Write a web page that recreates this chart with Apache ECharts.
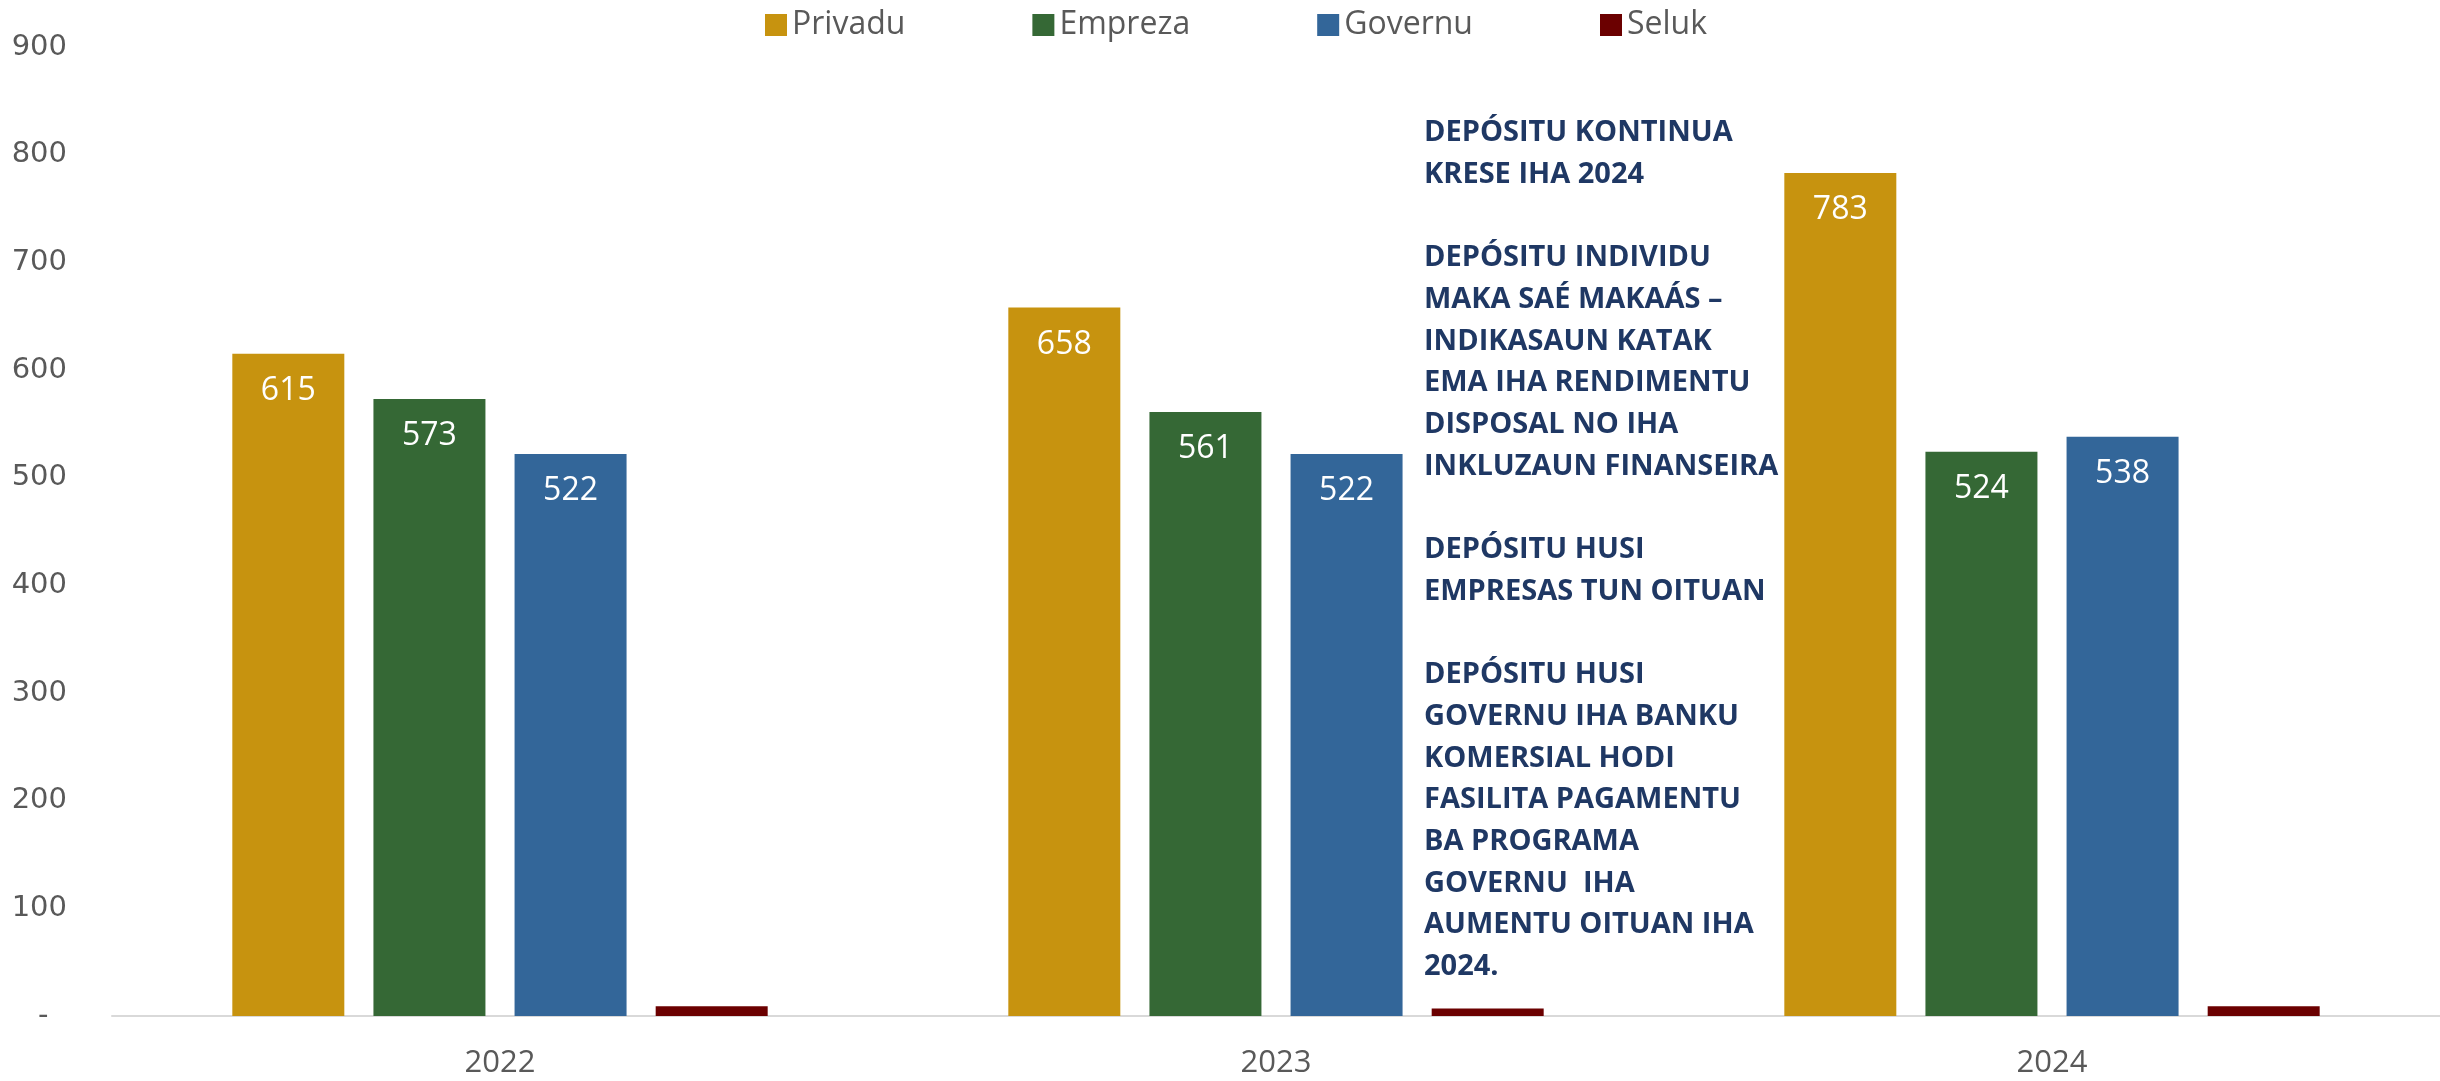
<!DOCTYPE html>
<html>
<head>
<meta charset="utf-8">
<script src="https://cdn.jsdelivr.net/npm/echarts@6/dist/echarts.min.js"></script>
<style>
  html, body { margin: 0; padding: 0; background: #ffffff; }
  #chart { width: 2440px; height: 1081px; }
</style>
</head>
<body>
<div id="chart"></div>
<script>
// years on the x axis
var years = ['2022', '2023', '2024'];

// deposits by holder
var privadu = [615, 658, 783];
var empreza = [573, 561, 524];
var governu = [522, 522, 538];
var seluk = [9, 7, 9];

var seriesNames = ['Privadu', 'Empreza', 'Governu', 'Seluk'];
var seriesColors = ['#C7930F', '#356835', '#336699', '#6B0000'];

// note text on the right of the chart
var noteLines = [
    'DEPÓSITU KONTINUA',
    'KRESE IHA 2024',
    '',
    'DEPÓSITU INDIVIDU',
    'MAKA SAÉ MAKAÁS –',
    'INDIKASAUN KATAK',
    'EMA IHA RENDIMENTU',
    'DISPOSAL NO IHA',
    'INKLUZAUN FINANSEIRA',
    '',
    'DEPÓSITU HUSI',
    'EMPRESAS TUN OITUAN',
    '',
    'DEPÓSITU HUSI',
    'GOVERNU IHA BANKU',
    'KOMERSIAL HODI',
    'FASILITA PAGAMENTU',
    'BA PROGRAMA',
    'GOVERNU  IHA',
    'AUMENTU OITUAN IHA',
    '2024.'
];

var chart = echarts.init(document.getElementById('chart'));

function makeSeries(index, data) {
    return {
        name: seriesNames[index],
        type: 'bar',
        data: data,
        barWidth: 112,
        barGap: '26%',
        itemStyle: { color: seriesColors[index] },
        label: {
            show: index < 3,
            position: 'insideTop',
            distance: 21,
            color: '#ffffff',
            fontFamily: 'Open Sans',
            fontSize: 32
        }
    };
}

var option = {
    backgroundColor: '#ffffff',
    animation: false,
    legend: {
        top: 4,
        left: 760,
        itemWidth: 22,
        itemHeight: 22,
        itemGap: 127,
        icon: 'rect',
        textStyle: {
            color: '#595959',
            fontFamily: 'Open Sans',
            fontSize: 32
        },
        data: seriesNames
    },
    grid: {
        left: 112,
        right: 0,
        top: 47,
        bottom: 65,
        containLabel: false
    },
    xAxis: {
        type: 'category',
        data: years,
        axisLine: { lineStyle: { color: '#D9D9D9', width: 2 } },
        axisTick: { show: false },
        axisLabel: {
            color: '#595959',
            fontFamily: 'Open Sans',
            fontSize: 31,
            margin: 32
        }
    },
    yAxis: {
        type: 'value',
        min: 0,
        max: 900,
        interval: 100,
        splitLine: { show: false },
        axisLine: { show: false },
        axisTick: { show: false },
        axisLabel: {
            color: '#595959',
            fontFamily: 'DejaVu Sans',
            fontSize: 29,
            margin: 45,
            formatter: function (v) {
                return v === 0 ? '-  ' : String(v);
            }
        }
    },
    graphic: [{
        type: 'text',
        left: 1424,
        top: 112,
        style: {
            text: noteLines.join('\n'),
            fill: '#1F3864',
            font: 'bold 29px "Open Sans"',
            lineHeight: 41.7
        }
    }],
    series: [
        makeSeries(0, privadu),
        makeSeries(1, empreza),
        makeSeries(2, governu),
        makeSeries(3, seluk)
    ]
};

chart.setOption(option);
</script>
</body>
</html>
